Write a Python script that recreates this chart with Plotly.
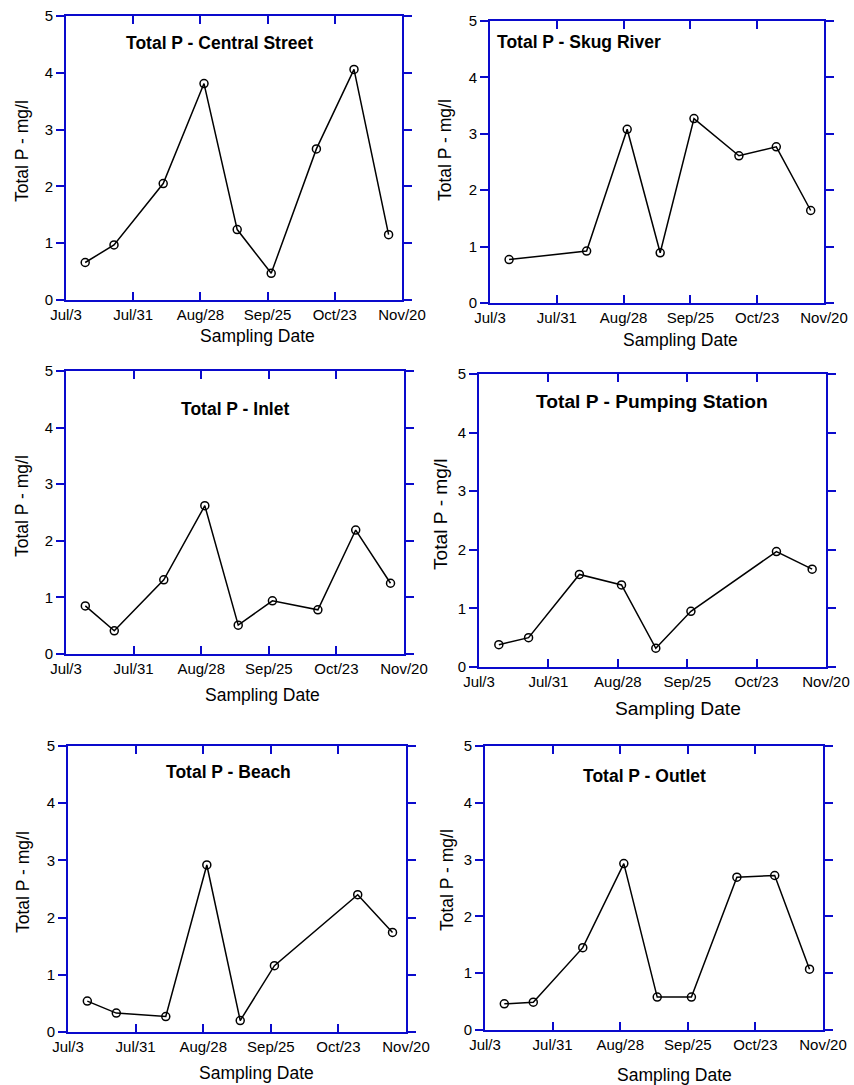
import plotly.graph_objects as go

W, H = 854, 1085

# ---- data ----
sample_dates = ["2001-07-11", "2001-07-23", "2001-08-12 12:00", "2001-08-29 12:00",
                "2001-09-12 08:00", "2001-09-26 12:00", "2001-10-15 08:00",
                "2001-10-31", "2001-11-14 10:00"]

central_street = [0.66, 0.97, 2.05, 3.81, 1.24, 0.47, 2.66, 4.06, 1.15]
skug_dates = [sample_dates[i] for i in (0, 2, 3, 4, 5, 6, 7, 8)]
skug_river = [0.77, 0.92, 3.08, 0.89, 3.27, 2.61, 2.77, 1.64]
inlet = [0.85, 0.41, 1.31, 2.62, 0.51, 0.94, 0.78, 2.19, 1.25]
pump_dates = [sample_dates[i] for i in (0, 1, 2, 3, 4, 5, 7, 8)]
pumping_station = [0.38, 0.50, 1.58, 1.40, 0.32, 0.95, 1.97, 1.67]
beach_dates = [sample_dates[i] for i in (0, 1, 2, 3, 4, 5, 7, 8)]
beach = [0.54, 0.33, 0.27, 2.92, 0.20, 1.16, 2.40, 1.74]
outlet = [0.46, 0.49, 1.45, 2.93, 0.58, 0.58, 2.69, 2.72, 1.07]

tick_dates = ["2001-07-03", "2001-07-31", "2001-08-28", "2001-09-25", "2001-10-23", "2001-11-20"]
tick_labels = ["Jul/3", "Jul/31", "Aug/28", "Sep/25", "Oct/23", "Nov/20"]
y_ticks = [0, 1, 2, 3, 4, 5]

titles = ["Total P - Central Street", "Total P - Skug River", "Total P - Inlet",
          "Total P - Pumping Station", "Total P - Beach", "Total P - Outlet"]
y_title = "Total P - mg/l"
x_title = "Sampling Date"

series = [(sample_dates, central_street), (skug_dates, skug_river), (sample_dates, inlet),
          (pump_dates, pumping_station), (beach_dates, beach), (sample_dates, outlet)]

# ---- layout (pixel boxes: left, right, top, bottom) ----
boxes = [(66, 402, 16, 300), (490, 824, 21, 303), (66, 404, 371, 654),
         (479, 826, 374, 667), (68, 406, 746, 1032), (485, 823, 746, 1030)]
title_pos = [(219, 43, "center"), (495, 42, "left"), (235, 409, "center"),
             (652, 401, "center"), (228, 772, "center"), (644, 776, "center")]
ytitle_pos = [(22, 151), (445, 150), (22, 506), (440, 514), (23, 882), (447, 880)]
xtitle_pos = [(257, 336), (680, 340), (262, 695), (678, 708), (256, 1073), (674, 1075)]
title_size = [17.5, 17.5, 17.5, 19.2, 17.5, 17.5]
axtitle_size = [17.5, 17.5, 17.5, 19.2, 17.5, 17.5]

AX = "#0a0acc"
FONT = "Liberation Sans, Arial, sans-serif"

fig = go.Figure()
annotations = []
layout = dict(width=W, height=H, margin=dict(l=0, r=0, t=0, b=0, pad=0, autoexpand=False),
              paper_bgcolor="white", plot_bgcolor="white", showlegend=False,
              font=dict(family=FONT, color="black"))

def px(x):
    return x / W

def py(y):
    return 1 - y / H

for i, ((xs, ys), (l, r, t, b)) in enumerate(zip(series, boxes)):
    n = i + 1
    xa = "x" if n == 1 else f"x{n}"
    ya = "y" if n == 1 else f"y{n}"
    fig.add_trace(go.Scatter(x=xs, y=ys, mode="lines+markers", xaxis=xa, yaxis=ya,
                             line=dict(color="black", width=1.5),
                             marker=dict(symbol="circle-open", size=8, color="black",
                                         line=dict(width=1.5, color="black"))))
    layout[f"xaxis{n}" if n > 1 else "xaxis"] = dict(
        domain=[px(l), px(r)], anchor=ya, type="date", automargin=False,
        range=[tick_dates[0], tick_dates[-1]], tickvals=tick_dates, ticktext=tick_labels,
        showgrid=False, zeroline=False, showline=True, linecolor=AX, linewidth=2,
        mirror="ticks", ticks="inside", ticklen=8, tickwidth=2, tickcolor=AX,
        tickfont=dict(size=15, family=FONT, color="black"), ticklabelstandoff=0)
    layout[f"yaxis{n}" if n > 1 else "yaxis"] = dict(
        domain=[py(b), py(t)], anchor=xa, range=[0, 5], tickvals=y_ticks, automargin=False,
        showgrid=False, zeroline=False, showline=True, linecolor=AX, linewidth=2,
        mirror="ticks", ticks="outside", ticklen=8, tickwidth=2, tickcolor=AX,
        tickfont=dict(size=15, family=FONT, color="black"), ticklabelstandoff=0)
    tx, ty, tanc = title_pos[i]
    annotations.append(dict(text=f"<b>{titles[i]}</b>", x=px(tx), y=py(ty), xref="paper",
                            yref="paper", xanchor=tanc, yanchor="middle", showarrow=False,
                            font=dict(size=title_size[i], family=FONT, color="black")))
    yx, yy = ytitle_pos[i]
    annotations.append(dict(text=y_title, x=px(yx), y=py(yy), xref="paper", yref="paper",
                            xanchor="center", yanchor="middle", textangle=-90,
                            showarrow=False,
                            font=dict(size=axtitle_size[i], family=FONT, color="black")))
    xx, xy = xtitle_pos[i]
    annotations.append(dict(text=x_title, x=px(xx), y=py(xy), xref="paper", yref="paper",
                            xanchor="center", yanchor="middle", showarrow=False,
                            font=dict(size=axtitle_size[i], family=FONT, color="black")))

layout["annotations"] = annotations
fig.update_layout(**layout)
# remove the default page margin so the figure sits at the window's top-left corner
fig.write_html("out.html", config={"displayModeBar": False},
               post_script="document.body.style.margin='0';document.body.style.overflow='hidden';")
